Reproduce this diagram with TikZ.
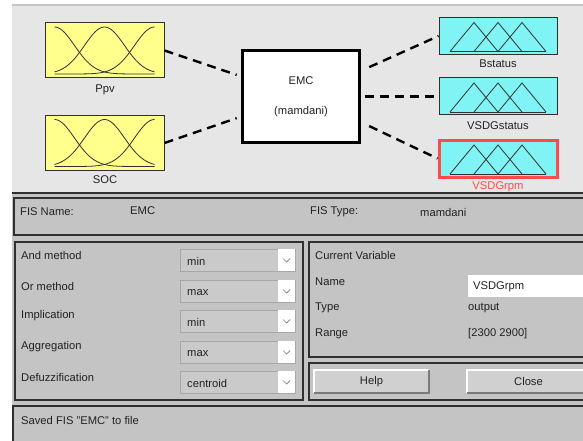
\documentclass[tikz,border=0pt]{standalone}
\usepackage{fontspec}
\setmainfont{Liberation Sans}
\definecolor{fisTop}{HTML}{E6E6E6}
\definecolor{fisBack}{HTML}{C4C4C4}
\definecolor{fisEdge}{HTML}{303030}
\definecolor{fisText}{HTML}{222222}
\definecolor{fisYellow}{HTML}{FFFF8C}
\definecolor{fisCyan}{HTML}{80F4F4}
\definecolor{fisRed}{HTML}{FF4A4A}
\definecolor{fisField}{HTML}{CACACA}
\definecolor{fisButton}{HTML}{D0D0D0}
\definecolor{fisShade}{HTML}{7A7A7A}
\tikzset{
  fis font/.style={font=\fontsize{11.2}{13}\selectfont},
  fis text/.style={fis font, text=fisText, inner sep=0pt, anchor=west},
  fis label/.style={fis font, text=fisText, inner sep=0pt},
  fis input/.style={draw=fisEdge, fill=fisYellow, line width=1pt, minimum width=119pt, minimum height=55pt, inner sep=0pt},
  fis output/.style={draw=fisEdge, fill=fisCyan, line width=1pt, minimum width=118pt, minimum height=37pt, inner sep=0pt},
  fis engine/.style={draw=black, fill=white, line width=2.2pt, minimum width=117pt, minimum height=92pt, align=center, fis font, text=fisText},
  fis link/.style={draw=black, line width=2.4pt, dash pattern=on 9pt off 6pt},
  fis mf/.style={draw=fisEdge, line width=0.8pt},
  fis panel/.style={draw=fisEdge, line width=1.2pt},
  fis field/.style={draw=fisBack!85!black, fill=fisField, line width=0.6pt},
  fis button/.style={fill=fisButton},
}

\begin{document}
\begin{tikzpicture}[x=1pt,y=-1pt]
  \useasboundingbox (0,0) rectangle (583,441);
  \clip (0,0) rectangle (583,441);
  \fill[white] (0,0) rectangle (583,441);

  % upper view of the system
  \fill[fisTop] (12,5) rectangle (583,193);
  \draw[fisBack, line width=1.2pt] (12,5) -- (583,5);
  \fill[fisBack] (12,193) rectangle (583,441);
  \draw[fisEdge, line width=2pt] (12,193) -- (583,193);

  \node[fis input] (ppv) at (104.5,50.5) {};
  \node[fis input, minimum height=54pt] (soc) at (104.5,143) {};
  \node[fis label] (ppvlbl) at (105,90) {Ppv};
  \node[fis label] (soclbl) at (105,180) {SOC};
  \foreach \n in {ppv,soc} {
    \begin{scope}[shift={(\n.center)}]
      \foreach \c in {-50,0,50} {
        \draw[fis mf] plot[domain=-50:50, samples=50, smooth] (\x, {23.5-47*exp(-((\x-\c)^2)/800)});
      }
    \end{scope}
  }

  \node[fis engine] (emc) at (301,96.5) {EMC\\[17pt](mamdani)};

  \node[fis output] (bstatus) at (498,36) {};
  \node[fis output] (vsdgstatus) at (498,96.5) {};
  \node[fis output, draw=fisRed, line width=3pt] (vsdgrpm) at (498,158.5) {};
  \node[fis label] (bstatuslbl) at (498,64) {Bstatus};
  \node[fis label] (vsdgstatuslbl) at (498,126) {VSDGstatus};
  \node[fis label, text=fisRed] (vsdgrpmlbl) at (498,187) {VSDGrpm};
  \foreach \n in {bstatus,vsdgstatus,vsdgrpm} {
    \begin{scope}[shift={(\n.center)}]
      \foreach \c in {-24,0,24} {
        \draw[fis mf] (\c-24,15.5) -- (\c,-13.5) -- (\c+24,15.5);
      }
      \draw[fis mf] (-48,15.5) -- (48,15.5);
    \end{scope}
  }

  \draw[fis link, shorten >=5pt] (ppv.east) -- ([yshift=20pt]emc.west);
  \draw[fis link, shorten >=5pt] (soc.east) -- ([yshift=-20pt]emc.west);
  \draw[fis link, shorten <=9.5pt] ([yshift=25.5pt]emc.east) -- (bstatus.west);
  \draw[fis link, shorten <=4pt] (emc.east) -- (vsdgstatus.west);
  \draw[fis link, shorten <=9.5pt] ([yshift=-25.5pt]emc.east) -- (vsdgrpm.west);

  % FIS name and type
  \draw[fis panel] (14,198) rectangle (590,235);
  \node[fis text] (namekey) at (20,212) {FIS Name:};
  \node[fis text] (nameval) at (130,211) {EMC};
  \node[fis text] (typekey) at (310,212) {FIS Type:};
  \node[fis text] (typeval) at (420,212) {mamdani};

  % methods
  \draw[fis panel] (15,242) rectangle (303,400);
  \foreach \lbl/\val/\top [count=\i] in {And method/min/249, Or method/max/280, Implication/min/310, Aggregation/max/341, Defuzzification/centroid/371} {
    \node[fis text] (key\i) at (21,\top+6) {\lbl};
    \draw[fis field] (180,\top) rectangle (295,\top+22);
    \fill[white] (278,\top) rectangle (295,\top+22);
    \draw[fisShade, line width=0.7pt] (283,\top+9.5) -- (286.5,\top+13) -- (290,\top+9.5);
    \node[fis text] (menu\i) at (187,\top+12.5) {\val};
  }

  % current variable
  \draw[fis panel] (309,242) rectangle (590,357);
  \node[fis text] (varhead) at (315,255) {Current Variable};
  \node[fis text] (varname) at (315,282) {Name};
  \node[fis text] (vartype) at (315,308) {Type};
  \node[fis text] (varrange) at (315,334) {Range};
  \fill[white] (468,275) rectangle (590,297);
  \node[fis text] (nameentry) at (473,286.5) {VSDGrpm};
  \node[fis text] (typeentry) at (468,308) {output};
  \node[fis text] (rangeentry) at (468,334) {[2300 2900]};

  % buttons
  \draw[fis panel] (309,363) rectangle (590,400);
  \foreach \l/\r/\txt/\nm in {314/429/Help/help, 467/590/Close/close} {
    \fill[fis button] (\l,370) rectangle (\r,393);
    \draw[white, line width=1.2pt] (\l,393) -- (\l,370) -- (\r,370);
    \draw[fisShade, line width=1.2pt] (\r,370) -- (\r,393) -- (\l,393);
    \node[fis label] (\nm) at ({(\l+\r)/2},381.5) {\txt};
  }

  % status line
  \draw[fis panel] (13,406) rectangle (590,450);
  \node[fis text] (status) at (21,420) {Saved FIS "EMC" to file};
\end{tikzpicture}
\end{document}
